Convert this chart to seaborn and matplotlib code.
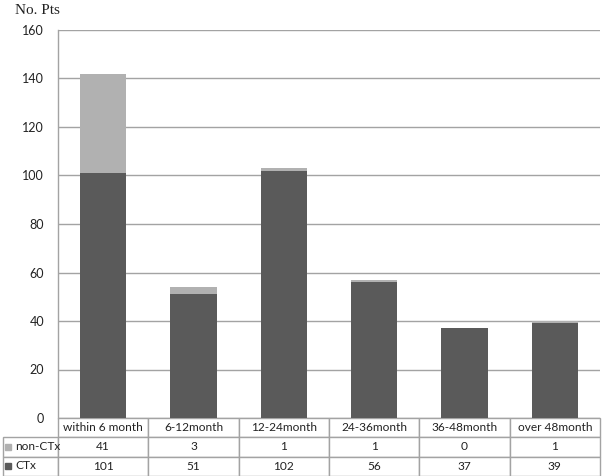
import matplotlib
matplotlib.use('Agg')
import matplotlib.pyplot as plt
from matplotlib.patches import Rectangle
import pandas as pd
import seaborn as sns

categories = ['within 6 month', '6-12month', '12-24month',
              '24-36month', '36-48month', 'over 48month']
non_ctx = [41, 3, 1, 1, 0, 1]
ctx = [101, 51, 102, 56, 37, 39]
series_names = ['non-CTx', 'CTx']
y_ticks = [0, 20, 40, 60, 80, 100, 120, 140, 160]

light = '#b1b1b1'
dark = '#5a5a5a'
line_col = '#a3a3a3'

df = pd.DataFrame({'period': categories, 'non-CTx': non_ctx, 'CTx': ctx})
df['total'] = df['non-CTx'] + df['CTx']

sns.set_style('white')
plt.rcParams['font.family'] = ['Lato', 'DejaVu Sans']

W, H = 602, 476
fig = plt.figure(figsize=(W / 100, H / 100), dpi=100)
left, right, top, bottom = 58, 600, 30, 418
ax = fig.add_axes([left / W, 1 - bottom / H, (right - left) / W, (bottom - top) / H])

# stacked bars: total (light) behind, CTx (dark) in front
sns.barplot(data=df, x='period', y='total', color=light, width=0.51,
            saturation=1, linewidth=0, ax=ax, zorder=3)
sns.barplot(data=df, x='period', y='CTx', color=dark, width=0.51,
            saturation=1, linewidth=0, ax=ax, zorder=4)

ax.set_ylim(0, 160)
ax.set_xlim(-0.5, 5.5)
ax.set_yticks(y_ticks)
ax.set_xticks([])
ax.set_xlabel('')
ax.set_ylabel('')
ax.yaxis.grid(True, color=line_col, linewidth=1)
ax.set_axisbelow(True)
ax.tick_params(axis='y', length=0, pad=10, labelsize=9, labelcolor='#222222')
for s in ['top', 'right', 'bottom']:
    ax.spines[s].set_visible(False)
ax.spines['left'].set_color(line_col)
ax.spines['left'].set_linewidth(1)

ax_w = right - left
ax_h = bottom - top

ax.text(-43 / ax_w, 1 + 16 / ax_h, 'No. Pts',
        transform=ax.transAxes, family='Liberation Serif', fontsize=11,
        color='#222222', ha='left', va='baseline')

# data table under the bars (first column holds the row labels)
label_w = 55 / ax_w
rows = [[''] + [str(v) for v in non_ctx], [''] + [str(v) for v in ctx]]
tbl = ax.table(cellText=rows, colLabels=[''] + categories,
               colWidths=[label_w] + [1 / 6] * 6, cellLoc='center',
               bbox=[-label_w, -58 / ax_h, 1 + label_w, 58 / ax_h])
tbl.auto_set_font_size(False)
tbl.set_fontsize(8.6)
for (r, c), cell in tbl.get_celld().items():
    cell.set_edgecolor(line_col)
    cell.set_linewidth(1)
    cell.get_text().set_color('#222222')
tbl[0, 0].visible_edges = ''

# row labels with legend squares
for i, (name, col) in enumerate(zip(series_names, [light, dark])):
    yc = 1 - (446.5 + i * 19.3 - top) / ax_h
    ax.add_patch(Rectangle((-53 / ax_w, yc - 3 / ax_h), 6 / ax_w, 6 / ax_h,
                           transform=ax.transAxes, color=col, clip_on=False))
    ax.text(-43 / ax_w, yc, name, transform=ax.transAxes, fontsize=8.6,
            color='#222222', ha='left', va='center')

fig.savefig('out.png', dpi=100)
